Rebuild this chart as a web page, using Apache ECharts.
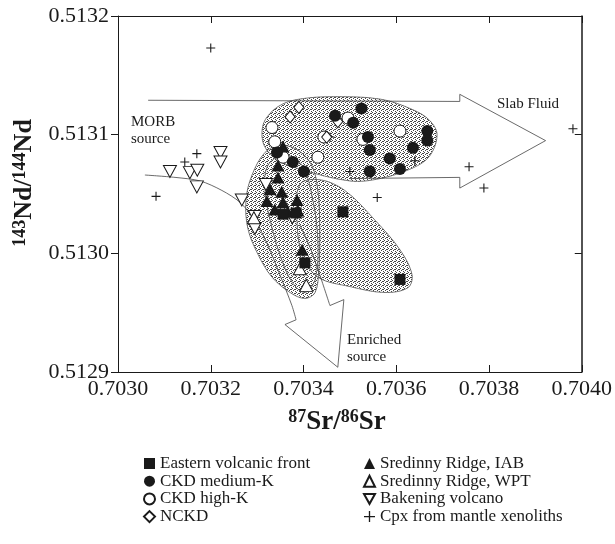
<!DOCTYPE html>
<html><head><meta charset="utf-8">
<script src="https://cdn.jsdelivr.net/npm/echarts@6/dist/echarts.min.js"></script>
<style>html,body{margin:0;padding:0;background:#fff}#c{width:615px;height:544px}</style>
</head><body><div id="c"></div>
<script>
// ---- axis ticks ----
const xTicks = [0.7030, 0.7032, 0.7034, 0.7036, 0.7038, 0.7040];
const yTicks = [0.5129, 0.5130, 0.5131, 0.5132];

// ---- series values [87Sr/86Sr, 143Nd/144Nd] ----
const easternFront = [[0.703485,0.513035],[0.703608,0.512978],[0.703403,0.512992],[0.703384,0.513034],[0.703356,0.513033]];
const ckdMediumK = [[0.703525,0.513122],[0.703468,0.513116],[0.703507,0.513110],[0.703539,0.513098],[0.703543,0.513087],
  [0.703586,0.513080],[0.703608,0.513071],[0.703543,0.513069],[0.703636,0.513089],[0.703667,0.513103],[0.703667,0.513095],
  [0.703343,0.513085],[0.703377,0.513077],[0.703401,0.513069]];
const ckdHighK = [[0.703332,0.513106],[0.703338,0.513094],[0.703356,0.513081],[0.703431,0.513081],[0.703444,0.513098],
  [0.703608,0.513103],[0.703496,0.513114],[0.703528,0.513096]];
const nckd = [[0.703390,0.513123],[0.703371,0.513115],[0.703474,0.513111],[0.703450,0.513098]];
const sredinnyIAB = [[0.703356,0.513090],[0.703345,0.513074],[0.703345,0.513064],[0.703328,0.513054],[0.703353,0.513052],
  [0.703321,0.513044],[0.703356,0.513043],[0.703386,0.513045],[0.703338,0.513037],[0.703366,0.513035],[0.703388,0.513036],
  [0.703397,0.513003]];
const sredinnyWPT = [[0.703406,0.512973],[0.703392,0.512987],[0.703293,0.513030]];
const bakening = [[0.703112,0.513069],[0.703155,0.513068],[0.703171,0.513070],[0.703170,0.513056],[0.703221,0.513085],
  [0.703221,0.513077],[0.703267,0.513045],[0.703295,0.513031],[0.703295,0.513021],[0.703319,0.513058],[0.703376,0.513030]];
const cpxXenoliths = [[0.703200,0.513173],[0.703082,0.513048],[0.703170,0.513084],[0.703144,0.513077],[0.703981,0.513105],
  [0.703757,0.513073],[0.703789,0.513055],[0.703640,0.513078],[0.703500,0.513069],[0.703559,0.513047],[0.703457,0.513098]];

// ---- field outlines (data coords) ----
const fieldCKD = [[0.703688,0.513100],[0.703672,0.513112],[0.703636,0.513121],[0.703565,0.513130],[0.703457,0.513132],
  [0.703392,0.513130],[0.703356,0.513126],[0.703328,0.513118],[0.703312,0.513107],[0.703315,0.513091],[0.703343,0.513079],
  [0.703392,0.513071],[0.703500,0.513061],[0.703565,0.513063],[0.703636,0.513072],[0.703672,0.513082]];
const fieldEast = [[0.703392,0.513058],[0.703435,0.513062],[0.703489,0.513053],[0.703554,0.513028],[0.703608,0.513003],
  [0.703634,0.512982],[0.703625,0.512971],[0.703575,0.512967],[0.703500,0.512972],[0.703431,0.512980],[0.703397,0.512999],
  [0.703386,0.513028]];
const fieldSredinny = [[0.703349,0.513091],[0.703388,0.513087],[0.703418,0.513074],[0.703431,0.513053],[0.703435,0.513020],
  [0.703433,0.512986],[0.703425,0.512967],[0.703403,0.512962],[0.703371,0.512967],[0.703332,0.512980],[0.703302,0.512999],
  [0.703280,0.513021],[0.703276,0.513045],[0.703289,0.513066],[0.703317,0.513085]];
const fieldIAB = [[0.703323,0.513074],[0.703360,0.513083],[0.703397,0.513074],[0.703418,0.513049],[0.703431,0.513011],
  [0.703425,0.512978],[0.703403,0.512967],[0.703375,0.512976],[0.703349,0.512999],[0.703328,0.513028],[0.703317,0.513053]];
const slabArrow = [[0.703065,0.513129],[0.703737,0.513128],[0.703737,0.513134],[0.703922,0.513095],[0.703737,0.513055],
  [0.703737,0.513064],[0.703500,0.513063]];
const morbCurve = [[0.703058,0.513066],[0.703123,0.513064],[0.703177,0.513061],[0.703224,0.513053],[0.703263,0.513043],
  [0.703295,0.513028],[0.703323,0.513007],[0.703349,0.512982],[0.703375,0.512956],[0.703384,0.512944]];
const enrichedHead = [[0.703384,0.512944],[0.703360,0.512940],[0.703474,0.512904],[0.703487,0.512961],[0.703457,0.512956]];
const enrichedShaft = [[0.703457,0.512956],[0.703435,0.512982],[0.703414,0.513005],[0.703392,0.513024]];

const FONT = '"Liberation Serif","Times New Roman",serif';
const INK = '#1a1a1a';

const pc = document.createElement('canvas'); pc.width = 4; pc.height = 4;
const g = pc.getContext('2d');
g.fillStyle = '#444';
[[0,0],[2,1],[1,2],[3,3],[3,1]].forEach(p => g.fillRect(p[0], p[1], 1, 1));
const stipple = { image: pc, repeat: 'repeat' };

function shapeSeries(pts, kind, opts) {
  return {
    type: 'custom', coordinateSystem: 'cartesian2d', silent: true, z: opts.z, data: pts,
    animation: false, clip: true,
    renderItem: (params, api) => {
      if (params.dataIndex !== 0) return null;
      const points = pts.map(p => api.coord(p));
      return {
        type: kind, shape: { points, smooth: opts.smooth || 0 },
        style: { fill: opts.fill || 'none', stroke: opts.stroke || null, lineWidth: opts.lw || 0.8 }
      };
    }
  };
}

const plus = 'path://M4.4,0H5.6V4.4H10V5.6H5.6V10H4.4V5.6H0V4.4H4.4Z';
const invTri = 'path://M0,0L10,0L5,9Z';
const filled = { color: INK, opacity: 1 };
const open = { color: '#fff', borderColor: INK, borderWidth: 1, opacity: 1 };

function scatter(name, data, symbol, size, style, z) {
  return { type: 'scatter', name, data, symbol, symbolSize: size, itemStyle: style, z: z || 5,
    emphasis: { disabled: true }, animation: false };
}

const chart = echarts.init(document.getElementById('c'), null, { renderer: 'canvas' });
const axisCommon = {
  type: 'value', splitLine: { show: false },
  axisLine: { show: true, onZero: false, lineStyle: { color: INK, width: 1 } },
};
const legendText = { fontFamily: FONT, fontSize: 17, color: INK, lineHeight: 17 };
chart.setOption({
  animation: false,
  grid: { left: 118, top: 16, right: 33, bottom: 172, containLabel: false },
  xAxis: [
    Object.assign({}, axisCommon, { position: 'bottom', min: xTicks[0], max: xTicks[xTicks.length-1], interval: xTicks[1]-xTicks[0],
      axisTick: { inside: true, length: 7, lineStyle: { color: INK } },
      axisLabel: { margin: 6, fontFamily: FONT, fontSize: 22, color: INK, formatter: v => v.toFixed(4),
        showMinLabel: true, showMaxLabel: true } }),
    Object.assign({}, axisCommon, { position: 'top', min: xTicks[0], max: xTicks[xTicks.length-1], interval: xTicks[1]-xTicks[0],
      axisTick: { inside: true, length: 7, lineStyle: { color: INK } }, axisLabel: { show: false } })
  ],
  yAxis: [
    Object.assign({}, axisCommon, { position: 'left', min: yTicks[0], max: yTicks[yTicks.length-1], interval: 0.0001,
      axisTick: { inside: false, length: 7, lineStyle: { color: INK } },
      axisLabel: { margin: 9, fontFamily: FONT, fontSize: 22, color: INK, formatter: v => v.toFixed(4),
        showMinLabel: true, showMaxLabel: true } }),
    Object.assign({}, axisCommon, { position: 'right', min: yTicks[0], max: yTicks[yTicks.length-1], interval: 0.0001,
      axisTick: { inside: true, length: 7, lineStyle: { color: INK } }, axisLabel: { show: false },
      axisLine: { show: true, onZero: false, lineStyle: { color: INK, width: 1.5 } } })
  ],
  legend: [
    { orient: 'vertical', left: 138, top: 450, itemWidth: 11, itemHeight: 11, itemGap: 0.7, selectedMode: false,
      textStyle: legendText, data: ['Eastern volcanic front', 'CKD medium-K', 'CKD high-K', 'NCKD'] },
    { orient: 'vertical', left: 358, top: 450, itemWidth: 11, itemHeight: 11, itemGap: 0.7, selectedMode: false,
      textStyle: legendText, data: ['Sredinny Ridge, IAB', 'Sredinny Ridge, WPT', 'Bakening volcano', 'Cpx from mantle xenoliths'] }
  ],
  graphic: [
    { type: 'text', x: 337, y: 422, z: 10, style: {
      text: '{s|87}{b|Sr/}{s|86}{b|Sr}', align: 'center', verticalAlign: 'middle', fill: INK,
      rich: { b: { fontFamily: FONT, fontWeight: 'bold', fontSize: 27, lineHeight: 27, fill: INK },
              s: { fontFamily: FONT, fontWeight: 'bold', fontSize: 18, lineHeight: 18, verticalAlign: 'top', fill: INK } } } },
    { type: 'text', x: 24, y: 183, rotation: Math.PI / 2, z: 10, style: {
      text: '{s|143}{b|Nd/}{s|144}{b|Nd}', align: 'center', verticalAlign: 'middle', fill: INK,
      rich: { b: { fontFamily: FONT, fontWeight: 'bold', fontSize: 26, lineHeight: 26, fill: INK },
              s: { fontFamily: FONT, fontWeight: 'bold', fontSize: 18, lineHeight: 18, verticalAlign: 'top', fill: INK } } } },
    { type: 'text', x: 131, y: 114, z: 10, style: { text: 'MORB\nsource', font: '15px ' + FONT, fill: INK,
      lineHeight: 17, align: 'left', verticalAlign: 'top' } },
    { type: 'text', x: 497, y: 97, z: 10, style: { text: 'Slab Fluid', font: '15px ' + FONT, fill: INK,
      align: 'left', verticalAlign: 'top' } },
    { type: 'text', x: 347, y: 332, z: 10, style: { text: 'Enriched\nsource', font: '15px ' + FONT, fill: INK,
      lineHeight: 17, align: 'left', verticalAlign: 'top' } }
  ],
  series: [
    shapeSeries(fieldSredinny, 'polygon', { z: 1, fill: stipple, smooth: 0.35 }),
    shapeSeries(fieldEast, 'polygon', { z: 1, fill: stipple, smooth: 0.35 }),
    shapeSeries(fieldCKD, 'polygon', { z: 1, fill: stipple, smooth: 0.35 }),
    shapeSeries(fieldSredinny, 'polygon', { z: 2, stroke: '#555', smooth: 0.35 }),
    shapeSeries(fieldEast, 'polygon', { z: 2, stroke: '#555', smooth: 0.35 }),
    shapeSeries(fieldCKD, 'polygon', { z: 2, stroke: '#555', smooth: 0.35 }),
    shapeSeries(fieldIAB, 'polygon', { z: 2, stroke: '#555', smooth: 0.35 }),
    shapeSeries(slabArrow, 'polyline', { z: 2, stroke: '#444' }),
    shapeSeries(morbCurve, 'polyline', { z: 2, stroke: '#444', smooth: 0.3 }),
    shapeSeries(enrichedHead, 'polyline', { z: 2, stroke: '#444' }),
    shapeSeries(enrichedShaft, 'polyline', { z: 2, stroke: '#444', smooth: 0.3 }),
    scatter('Cpx from mantle xenoliths', cpxXenoliths, plus, 9, filled, 4),
    scatter('Bakening volcano', bakening, invTri, [13, 12], open, 5),
    scatter('Sredinny Ridge, WPT', sredinnyWPT, 'triangle', [13, 12], open, 5),
    scatter('CKD high-K', ckdHighK, 'circle', 12, open, 5),
    scatter('NCKD', nckd, 'diamond', [10, 12], open, 6),
    scatter('Sredinny Ridge, IAB', sredinnyIAB, 'triangle', [13, 12], filled, 6),
    scatter('CKD medium-K', ckdMediumK, 'circle', 12, filled, 6),
    scatter('Eastern volcanic front', easternFront, 'rect', 11, filled, 6)
  ]
});
</script></body></html>
